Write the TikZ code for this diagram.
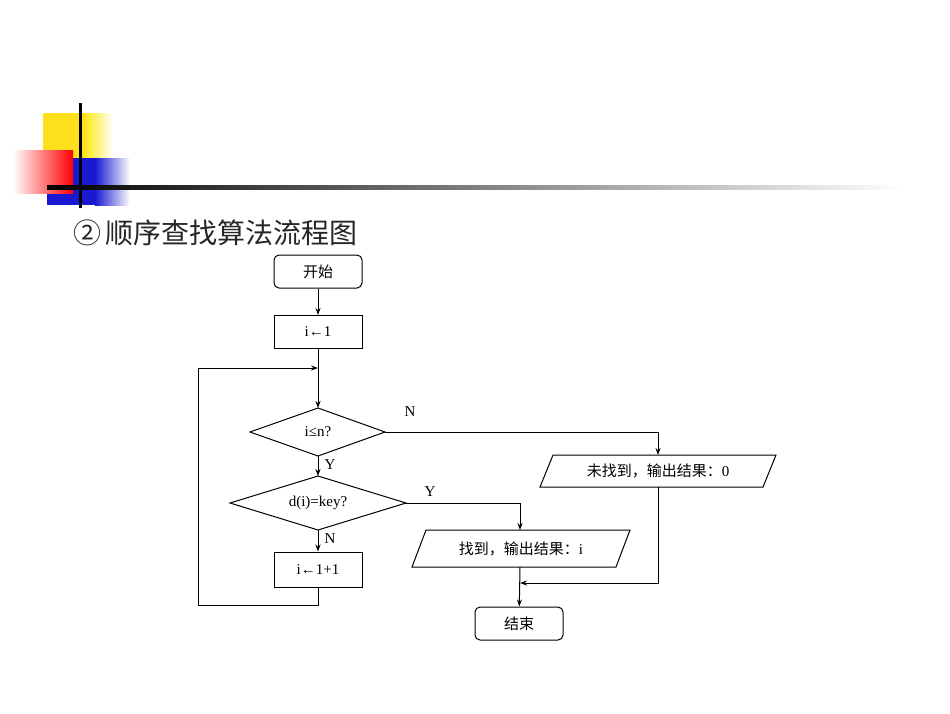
\documentclass[tikz,border=0pt]{standalone}
\usepackage{fontspec}
\setmainfont{Liberation Serif}
\newfontfamily\cjk{Noto Sans CJK SC}
\usetikzlibrary{arrows.meta}
\begin{document}
\begin{tikzpicture}[x=1pt,y=-1pt,
  box/.style={draw,line width=1pt,minimum width=88pt,minimum height=33pt,inner sep=0pt,font=\fontsize{15}{15}\selectfont},
  term/.style={box,rounded corners=5pt},
  lbl/.style={font=\fontsize{15}{15}\selectfont,inner sep=0pt},
  ln/.style={line width=1pt},
  arr/.style={ln,-{Stealth[length=7pt,width=5pt]}}]
\useasboundingbox (0,0) rectangle (950,713);
% decoration
\fill[yellow!80!orange!90!white] (43,113) rectangle (85,180);
\shade[left color=yellow!80!orange!90!white,right color=white] (85,113) rectangle (113,180);
\fill[blue!80!black!90] (47,158) rectangle (95,205);
\shade[left color=blue!80!black!90,right color=white] (95,158) rectangle (130,205);
\shade[left color=white,right color=red] (13,150) rectangle (73,193);
\draw[line width=3pt] (80,103) -- (80,208);
\shade[left color=black,right color=white] (47,185.5) rectangle (905,189);
\node[anchor=west,inner sep=0pt,font=\cjk\fontsize{28}{28}\selectfont,text=black!85] (title) at (73,233) {②\,顺序查找算法流程图};
% flowchart
\node[term] (start) at (318,271.5) {\cjk 开始};
\node[box] (init) at (318,332) {i←1};
\coordinate (join) at (318,368);
\node[lbl] (d1) at (318,432) {i≤n?};
\draw[ln] (250,432) -- (318,408) -- (385,432) -- (318,456) -- cycle;
\coordinate (d1r) at (385,432);
\coordinate (d1b) at (318,456);
\node[lbl] (d2) at (318,503) {d(i)=key?};
\draw[ln] (230,503) -- (318,476) -- (406,503) -- (318,530) -- cycle;
\coordinate (d2r) at (406,503);
\coordinate (d2b) at (318,530);
\coordinate (d1t) at (318,408);
\coordinate (d2t) at (318,476);
\node[box,minimum height=35pt] (inc) at (318,569.5) {i←1+1};
\node[lbl] (p1) at (658,471) {\cjk 未找到，输出结果：\rmfamily 0};
\draw[ln] (553,455) -- (776,455) -- (763,487) -- (540,487) -- cycle;
\coordinate (p1t) at (658,455);
\coordinate (p1b) at (658,487);
\node[lbl] (p2) at (521,548.5) {\cjk 找到，输出结果：\rmfamily i};
\draw[ln] (426,530) -- (630,530) -- (616,567) -- (412,567) -- cycle;
\coordinate (p2t) at (520,530);
\coordinate (p2b) at (520,567);
\coordinate (merge) at (520,583);
\node[term] (end) at (519,623.5) {\cjk 结束};
\draw[arr] (start) -- (init);
\draw[arr] (init) -- (d1t);
\draw[arr] (d1b) -- (d2t) node[lbl,pos=0.45,right=6pt] (ylab1) {Y};
\draw[arr] (d2b) -- (inc) node[lbl,pos=0.4,right=6pt] (nlab2) {N};
\draw[arr] (inc.south) -- (318,605) -- (198,605) -- (198,368) -- (join);
\draw[arr] (d1r) -| (p1t);
\node[lbl] (nlab1) at (410,412) {N};
\draw[arr] (d2r) -| (p2t);
\node[lbl] (ylab2) at (430,492) {Y};
\draw[arr] (p2b) -- (end);
\draw[arr] (p1b) |- (merge);
\end{tikzpicture}
\end{document}
